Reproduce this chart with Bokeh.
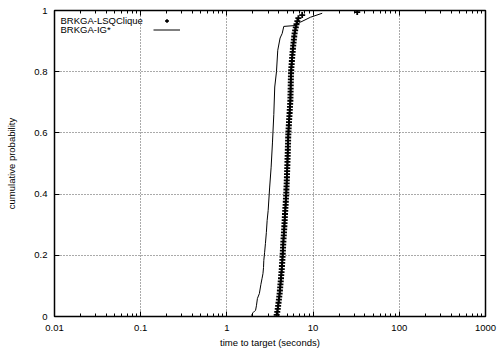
from bokeh.plotting import figure
from bokeh.models import Range1d, FixedTicker, LogAxis, LinearAxis, Legend, LegendItem, Label
from bokeh.embed import file_html
from bokeh.resources import INLINE

FONT = "Liberation Sans"
FS = "9.5px"

# BRKGA-LSQClique (points)
lsq_time = [3.78, 3.84, 3.89, 3.93, 3.97, 4.01, 4.05, 4.09, 4.12, 4.15,
            4.18, 4.21, 4.24, 4.27, 4.30, 4.33, 4.35, 4.38, 4.40, 4.42,
            4.44, 4.46, 4.48, 4.50, 4.52, 4.54, 4.57, 4.59, 4.62, 4.64,
            4.66, 4.68, 4.70, 4.72, 4.75, 4.77, 4.80, 4.82, 4.84, 4.87,
            4.89, 4.90, 4.92, 4.94, 4.95, 4.97, 4.98, 5.00, 5.01, 5.03,
            5.04, 5.05, 5.07, 5.08, 5.09, 5.10, 5.12, 5.13, 5.14, 5.16,
            5.18, 5.20, 5.23, 5.25, 5.28, 5.31, 5.34, 5.36, 5.39, 5.42,
            5.45, 5.46, 5.47, 5.48, 5.49, 5.50, 5.51, 5.52, 5.53, 5.55,
            5.57, 5.60, 5.64, 5.67, 5.71, 5.75, 5.79, 5.83, 5.88, 5.93,
            5.98, 6.04, 6.10, 6.19, 6.30, 6.42, 6.57, 6.75, 7.47, 32.5]
lsq_prob = [0.005, 0.015, 0.025, 0.035, 0.045, 0.055, 0.065, 0.075, 0.085, 0.095,
            0.105, 0.115, 0.125, 0.135, 0.145, 0.155, 0.165, 0.175, 0.185, 0.195,
            0.205, 0.215, 0.225, 0.235, 0.245, 0.255, 0.265, 0.275, 0.285, 0.295,
            0.305, 0.315, 0.325, 0.335, 0.345, 0.355, 0.365, 0.375, 0.385, 0.395,
            0.405, 0.415, 0.425, 0.435, 0.445, 0.455, 0.465, 0.475, 0.485, 0.495,
            0.505, 0.515, 0.525, 0.535, 0.545, 0.555, 0.565, 0.575, 0.585, 0.595,
            0.605, 0.615, 0.625, 0.635, 0.645, 0.655, 0.665, 0.675, 0.685, 0.695,
            0.705, 0.715, 0.725, 0.735, 0.745, 0.755, 0.765, 0.775, 0.785, 0.795,
            0.805, 0.815, 0.825, 0.835, 0.845, 0.855, 0.865, 0.875, 0.885, 0.895,
            0.905, 0.915, 0.925, 0.935, 0.945, 0.955, 0.965, 0.975, 0.985, 0.995]

# BRKGA-IG* (line)
ig_time = [1.93, 2.00, 2.10, 2.15, 2.20, 2.26, 2.38, 2.48, 2.56, 2.62,
           2.66, 2.68, 2.74, 2.80, 2.87, 2.93, 3.01, 3.13, 3.26, 3.38,
           3.50, 3.59, 3.76, 3.89, 4.14, 4.38, 4.57, 6.25, 7.14, 9.33, 12.75]
ig_prob = [0.003, 0.012, 0.018, 0.020, 0.035, 0.059, 0.075, 0.105, 0.125, 0.14,
           0.16, 0.183, 0.21, 0.239, 0.275, 0.314, 0.346, 0.42, 0.488, 0.57,
           0.66, 0.75, 0.80, 0.87, 0.91, 0.925, 0.948, 0.951, 0.962, 0.978, 0.991]

series_names = ["BRKGA-LSQClique", "BRKGA-IG*"]

x_ticks = [0.01, 0.1, 1, 10, 100, 1000]
x_tick_labels = ["0.01", "0.1", "1", "10", "100", "1000"]
x_minor = [m * 10.0 ** e for e in range(-2, 3) for m in range(2, 10)]
y_ticks = [0, 0.2, 0.4, 0.6, 0.8, 1]
y_tick_labels = ["0", "0.2", "0.4", "0.6", "0.8", "1"]


def overrides(ticks, labels):
    d = {}
    for t, l in zip(ticks, labels):
        d[float(t)] = l
        d[str(t)] = l
    return d


p = figure(width=498, height=354, x_axis_type="log",
           x_range=Range1d(0.01, 1000), y_range=Range1d(0, 1),
           output_backend="svg", toolbar_location=None,
           min_border_left=54, min_border_right=13,
           min_border_top=10, min_border_bottom=38)

p.background_fill_color = "white"
p.border_fill_color = "white"
p.outline_line_color = "black"
p.outline_line_width = 1.5

# grids
for g in (p.xgrid[0], p.ygrid[0]):
    g.grid_line_color = "#555555"
    g.grid_line_dash = "1 2"
    g.grid_line_width = 1

xa = p.xaxis[0]
xa.ticker = FixedTicker(ticks=x_ticks, minor_ticks=x_minor)
xa.major_label_overrides = overrides(x_ticks, x_tick_labels)
xa.axis_label = "time to target (seconds)"

ya = p.yaxis[0]
ya.ticker = FixedTicker(ticks=y_ticks)
ya.major_label_overrides = overrides(y_ticks, y_tick_labels)
ya.axis_label = "cumulative probability"

for ax in (xa, ya):
    ax.axis_line_color = "black"
    ax.major_tick_in = 5
    ax.major_tick_out = 0
    ax.minor_tick_in = 3
    ax.minor_tick_out = 0
    ax.major_tick_line_color = "black"
    ax.minor_tick_line_color = "black" if ax is xa else None
    ax.major_label_text_font = FONT
    ax.major_label_text_font_size = FS
    ax.major_label_text_color = "black"
    ax.axis_label_text_font = FONT
    ax.axis_label_text_font_size = FS
    ax.axis_label_text_font_style = "normal"
    ax.axis_label_text_color = "black"

xa.major_label_standoff = 8
xa.axis_label_standoff = 3
ya.major_label_standoff = 7
ya.axis_label_standoff = 14

# mirrored ticks (top and right)
top = LogAxis(ticker=FixedTicker(ticks=x_ticks, minor_ticks=x_minor),
              major_label_overrides=overrides(x_ticks, [""] * len(x_ticks)),
              major_label_text_font_size="0px", major_label_standoff=0,
              axis_line_color=None, major_tick_in=5, major_tick_out=0,
              minor_tick_in=3, minor_tick_out=0,
              major_tick_line_color="black", minor_tick_line_color="black")
p.add_layout(top, "above")
right = LinearAxis(ticker=FixedTicker(ticks=y_ticks),
                   major_label_overrides=overrides(y_ticks, [""] * len(y_ticks)),
                   major_label_text_font_size="0px", major_label_standoff=0,
                   axis_line_color=None, major_tick_in=5, major_tick_out=0,
                   minor_tick_line_color=None, major_tick_line_color="black")
p.add_layout(right, "right")

r_pts = p.scatter(lsq_time, lsq_prob, marker="cross", size=6,
                  line_color="black", line_width=1.8)
r_line = p.line(ig_time, ig_prob, line_color="black", line_width=1)

legend = Legend(items=[LegendItem(label=" ", renderers=[r_pts]),
                       LegendItem(label=" ", renderers=[r_line])],
                location=(99, 282), glyph_width=27, glyph_height=9,
                label_height=9, label_width=1, label_text_font_size="1px",
                label_standoff=0, spacing=0, padding=0, margin=0,
                border_line_color=None, background_fill_alpha=0)
p.add_layout(legend)

for i, name in enumerate(series_names):
    p.add_layout(Label(x=6, y=296 - 9 * i, x_units="screen", y_units="screen",
                       text=name, text_font=FONT, text_font_size=FS,
                       text_baseline="middle", text_color="black"))

open("out.html", "w").write(file_html(p, INLINE))
